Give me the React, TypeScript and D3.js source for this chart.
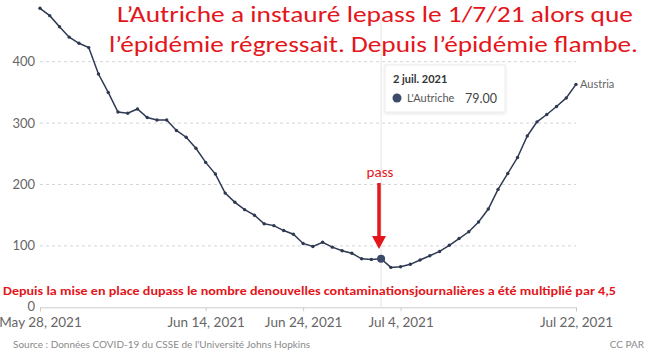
import React, { useRef, useEffect } from "react";
import * as d3 from "d3";

// daily new cases (7-day avg), Austria, May 28 -> Jul 22 2021
const startDate = "2021-05-28";
const cases = [
  487, 475, 457, 440, 430, 423, 380, 350, 318, 316,
  323, 309, 305, 305, 288, 277, 259, 236, 217, 186,
  171, 159, 150, 136, 133, 125, 119, 104, 99, 106,
  98, 92, 88, 79, 78, 79, 65, 66, 70, 77,
  84, 91, 101, 112, 123, 139, 160, 192, 218, 244,
  279, 302, 314, 327, 341, 363,
];
const yTicks = [0, 100, 200, 300, 400];
const xTicks = ["2021-05-28", "2021-06-14", "2021-06-24", "2021-07-04", "2021-07-22"];
const xTickLabels = ["May 28, 2021", "Jun 14, 2021", "Jun 24, 2021", "Jul 4, 2021", "Jul 22, 2021"];
const hoverDate = "2021-07-02";
const hoverLabel = "2 juil. 2021";
const hoverSeries = "L'Autriche";
const hoverValue = "79.00";
const seriesName = "Austria";
const titleLines = [
  "L’Autriche a instauré lepass le 1/7/21 alors que",
  "l’épidémie régressait. Depuis l’épidémie flambe.",
];
const bottomNote =
  "Depuis la mise en place dupass le nombre denouvelles contaminationsjournalières a été multiplié par 4,5";
const sourceText = "Source : Données COVID-19 du CSSE de l'Université Johns Hopkins";

const App = () => {
  const plot = useRef(null);
  const width = 650;
  const height = 353;

  useEffect(() => {
    document.body.style.margin = "0";
    const svg = d3.select(plot.current);
    svg.selectAll("*").remove();

    const parse = d3.utcParse("%Y-%m-%d");
    const t0 = parse(startDate);
    const data = cases.map((v, i) => ({ date: d3.utcDay.offset(t0, i), value: v }));

    const x = d3.scaleUtc()
      .domain([t0, data[data.length - 1].date])
      .range([40, 576]);
    const y = d3.scaleLinear().domain([0, 400]).range([307.3, 61.7]);

    const grey = "#666";
    const font = "Lato, 'Open Sans', sans-serif";

    const defs = svg.append("defs");
    defs.append("filter").attr("id", "shadow")
      .attr("x", "-20%").attr("y", "-20%").attr("width", "140%").attr("height", "150%")
      .append("feDropShadow")
      .attr("dx", 0).attr("dy", 1).attr("stdDeviation", 1.5)
      .attr("flood-color", "#000").attr("flood-opacity", 0.12);

    // gridlines
    svg.append("g")
      .selectAll("line")
      .data(yTicks.filter(d => d > 0))
      .join("line")
      .attr("x1", 40).attr("x2", 576)
      .attr("y1", d => y(d)).attr("y2", d => y(d))
      .attr("stroke", "#d6d6d6")
      .attr("stroke-dasharray", "3,3");

    // y labels
    svg.append("g")
      .selectAll("text")
      .data(yTicks)
      .join("text")
      .attr("x", 35)
      .attr("y", d => y(d))
      .attr("dy", d => d === 0 ? "0.3em" : "0.35em")
      .attr("text-anchor", "end")
      .attr("font-family", font)
      .attr("font-size", 13)
      .attr("fill", grey)
      .text(d => d);

    // x axis
    const xAxis = d3.axisBottom(x)
      .tickValues(xTicks.map(d => parse(d)))
      .tickFormat((d, i) => xTickLabels[i])
      .tickSize(4)
      .tickPadding(6);
    svg.append("g")
      .attr("transform", `translate(0, ${y(0)})`)
      .call(xAxis)
      .call(g => g.select(".domain").attr("stroke", "#ccc"))
      .call(g => g.selectAll(".tick line").attr("stroke", "#ccc"))
      .call(g => g.selectAll(".tick text")
        .attr("font-family", font)
        .attr("font-size", 13.5)
        .attr("fill", grey));

    // hover line
    const hx = x(parse(hoverDate));
    svg.append("line")
      .attr("x1", hx).attr("x2", hx)
      .attr("y1", 20).attr("y2", y(0))
      .attr("stroke", "#e4e4e4");

    // series line
    const line = d3.line()
      .x(d => x(d.date))
      .y(d => y(d.value));
    svg.append("path")
      .attr("fill", "none")
      .attr("stroke", "#2e3a52")
      .attr("stroke-width", 1.5)
      .attr("d", line(data));
    svg.append("g")
      .selectAll("circle")
      .data(data)
      .join("circle")
      .attr("cx", d => x(d.date))
      .attr("cy", d => y(d.value))
      .attr("r", 1.7)
      .attr("fill", "#2e3a52");

    const hd = data.find(d => +d.date === +parse(hoverDate));
    svg.append("circle")
      .attr("cx", hx).attr("cy", y(hd.value))
      .attr("r", 4)
      .attr("fill", "#3d4b6b");

    const last = data[data.length - 1];
    svg.append("text")
      .attr("x", x(last.date) + 4)
      .attr("y", y(last.value))
      .attr("dy", "0.35em")
      .attr("font-family", font)
      .attr("font-size", 11)
      .attr("fill", grey)
      .text(seriesName);

    // tooltip
    const tip = svg.append("g").attr("transform", "translate(385, 65)");
    tip.append("rect")
      .attr("width", 120).attr("height", 47)
      .attr("fill", "#fff")
      .attr("stroke", "#ececec")
      .attr("filter", "url(#shadow)");
    tip.append("text")
      .attr("x", 8).attr("y", 18)
      .attr("font-family", font)
      .attr("font-size", 11)
      .attr("font-weight", 700)
      .attr("fill", "#333")
      .text(hoverLabel);
    tip.append("circle")
      .attr("cx", 12).attr("cy", 33).attr("r", 4.5)
      .attr("fill", "#3d4b6b");
    tip.append("text")
      .attr("x", 22).attr("y", 37)
      .attr("font-family", font)
      .attr("font-size", 11)
      .attr("fill", "#555")
      .text(hoverSeries);
    tip.append("text")
      .attr("x", 112).attr("y", 37.5)
      .attr("text-anchor", "end")
      .attr("font-family", font)
      .attr("font-size", 12.5)
      .attr("fill", "#444")
      .text(hoverValue);

    // title
    const red = "#e3161c";
    const titleFont = "Carlito, 'Open Sans', sans-serif";
    svg.append("g")
      .selectAll("text")
      .data(titleLines)
      .join("text")
      .attr("x", (d, i) => i === 0 ? 117 : 109)
      .attr("y", (d, i) => 22 + i * 30)
      .attr("textLength", (d, i) => i === 0 ? 516 : 529)
      .attr("lengthAdjust", "spacingAndGlyphs")
      .attr("font-family", titleFont)
      .attr("font-size", 22)
      .attr("fill", red)
      .text(d => d);

    // pass annotation
    svg.append("text")
      .attr("x", 380).attr("y", 177)
      .attr("text-anchor", "middle")
      .attr("font-family", titleFont)
      .attr("font-size", 15)
      .attr("fill", red)
      .text("pass");
    svg.append("line")
      .attr("x1", 379).attr("x2", 379)
      .attr("y1", 183).attr("y2", 237)
      .attr("stroke", red)
      .attr("stroke-width", 3.5);
    svg.append("path")
      .attr("d", "M372,236 L386,236 L379,249 Z")
      .attr("fill", red);

    // bottom note
    svg.append("text")
      .attr("x", 3).attr("y", 294.5)
      .attr("textLength", 613)
      .attr("lengthAdjust", "spacingAndGlyphs")
      .attr("font-family", titleFont)
      .attr("font-size", 12.5)
      .attr("font-weight", 700)
      .attr("fill", red)
      .text(bottomNote);

    // source
    svg.append("text")
      .attr("x", 13).attr("y", 348)
      .attr("font-family", font)
      .attr("font-size", 10)
      .attr("fill", "#8a8a8a")
      .text(sourceText);
    svg.append("text")
      .attr("x", 644).attr("y", 348)
      .attr("text-anchor", "end")
      .attr("font-family", font)
      .attr("font-size", 10)
      .attr("fill", "#8a8a8a")
      .text("CC PAR");
  }, []);

  return (
    <svg ref={plot} width={width} height={height} style={{ display: "block", background: "#fff" }} />
  );
};

export default App;
